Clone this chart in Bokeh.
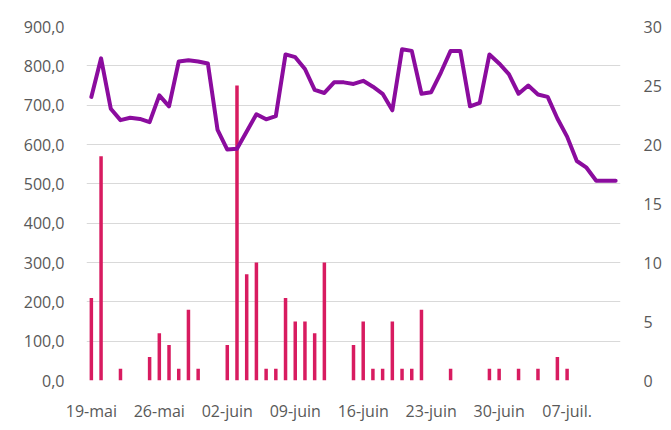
import pandas as pd
from bokeh.plotting import figure
from bokeh.models import Range1d, LinearAxis, FixedTicker
from bokeh.embed import file_html
from bokeh.resources import INLINE

start_date = "2019-05-19"
n_days = 55

# daily line values (left axis)
line_values = [721, 819, 691, 662, 668, 665, 657, 725, 697, 811,
               814, 811, 806, 637, 587, 589, 633, 677, 664, 672,
               829, 822, 792, 739, 731, 758, 758, 754, 762, 747,
               729, 687, 842, 838, 729, 733, 783, 838, 838, 697,
               706, 829, 806, 779, 729, 750, 727, 721, 666, 620,
               558, 541, 508, 508, 508]

# daily bar values (right axis)
bar_values = [7, 19, 0, 1, 0, 0, 2, 4, 3, 1,
              6, 1, 0, 0, 3, 25, 9, 10, 1, 1,
              7, 5, 5, 4, 10, 0, 0, 3, 5, 1,
              1, 5, 1, 1, 6, 0, 0, 1, 0, 0,
              0, 1, 1, 0, 1, 0, 1, 0, 2, 1,
              0, 0, 0, 0, 0]

tick_days = [0, 7, 14, 21, 28, 35, 42, 49]
tick_labels = ["19-mai", "26-mai", "02-juin", "09-juin", "16-juin",
               "23-juin", "30-juin", "07-juil."]

left_ticks = [0, 100, 200, 300, 400, 500, 600, 700, 800, 900]
left_labels = ["0,0", "100,0", "200,0", "300,0", "400,0", "500,0",
               "600,0", "700,0", "800,0", "900,0"]
right_ticks = [0, 5, 10, 15, 20, 25, 30]

dates = pd.date_range(start_date, periods=n_days, freq="D")
days = [(d - dates[0]).days for d in dates]

FONT = "Open Sans"
TXT = "#595959"

p = figure(width=665, height=424, output_backend="svg", toolbar_location=None,
           x_range=Range1d(-0.5, 54.5), y_range=Range1d(0, 900),
           min_border_left=86, min_border_right=45, min_border_top=26,
           min_border_bottom=40)
p.outline_line_color = None
p.background_fill_color = "white"
p.border_fill_color = "white"

p.extra_y_ranges = {"right": Range1d(0, 30)}

p.vbar(x=days, top=bar_values, width=0.36, y_range_name="right",
       fill_color="#D81B60", line_color=None)
p.line(x=days, y=line_values, line_width=4, line_color="#8B0C9E",
       line_join="round", line_cap="round")

# axes
ax = p.xaxis[0]
ax.ticker = FixedTicker(ticks=tick_days)
ax.major_label_overrides = {d: l for d, l in zip(tick_days, tick_labels)}
ay = p.yaxis[0]
ay.ticker = FixedTicker(ticks=left_ticks)
ay.major_label_overrides = {t: l for t, l in zip(left_ticks, left_labels)}

ry = LinearAxis(y_range_name="right", ticker=FixedTicker(ticks=right_ticks))
p.add_layout(ry, "right")

for a in [ax, ay, ry]:
    a.axis_line_color = None
    a.major_tick_line_color = None
    a.minor_tick_line_color = None
    a.major_label_text_font = FONT
    a.major_label_text_font_size = "16px"
    a.major_label_text_color = TXT
ay.major_label_standoff = 16
ry.major_label_standoff = 17
ax.major_label_standoff = 13

p.xgrid.grid_line_color = None
p.ygrid.ticker = FixedTicker(ticks=left_ticks)
p.ygrid.grid_line_color = "#d9d9d9"
p.ygrid.grid_line_width = 1

open("out.html", "w").write(file_html(p, INLINE))
